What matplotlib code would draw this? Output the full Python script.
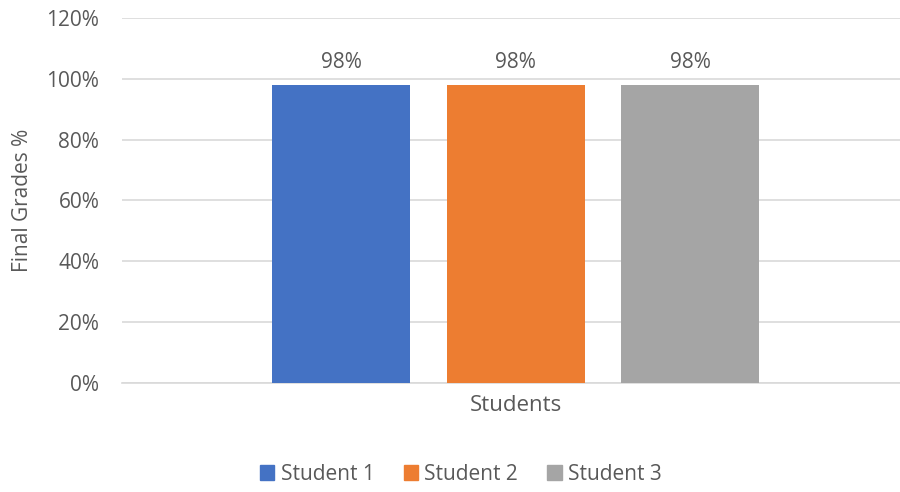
import matplotlib.pyplot as plt
from matplotlib.ticker import PercentFormatter
from matplotlib.patches import Patch

category = ['Students']
series = ['Student 1', 'Student 2', 'Student 3']
grades = [98, 98, 98]
colors = ['#4472C4', '#ED7D31', '#A5A5A5']

plt.rcParams['font.family'] = ['Open Sans', 'DejaVu Sans']
text_col = '#595959'

fig = plt.figure(figsize=(9, 4.92), dpi=100)
ax = fig.add_axes([0.135, 0.222, 0.865, 0.741])

width = 0.177
shift = 0.0064
offsets = [-0.224, 0.0, 0.224]
for name, val, col, off in zip(series, grades, colors, offsets):
    b = ax.bar(shift + off, val, width=width, color=col, label=name, zorder=3)
    ax.bar_label(b, labels=[f'{val}%'], padding=9, fontsize=15, color=text_col)

ax.set_xlim(-0.5, 0.5)
ax.set_ylim(0, 120)
ax.set_yticks(range(0, 121, 20))
ax.yaxis.set_major_formatter(PercentFormatter(decimals=0))
ax.set_xticks([shift])
ax.set_xticklabels(category, fontsize=16, color=text_col)
ax.set_ylabel('Final Grades %', fontsize=15, color=text_col, labelpad=10)
ax.tick_params(axis='y', labelsize=15, labelcolor=text_col, length=0, pad=16)
ax.tick_params(axis='x', length=0, pad=9)
ax.grid(axis='y', color='#D9D9D9', lw=1.2, zorder=0)
for s in ['top', 'right', 'left']:
    ax.spines[s].set_visible(False)
ax.spines['bottom'].set_color('#D9D9D9')
ax.spines['bottom'].set_linewidth(1.2)

handles = [Patch(color=c, label=n) for n, c in zip(series, colors)]
fig.legend(handles=handles, loc='center', bbox_to_anchor=(0.512, 0.036), ncol=3,
           frameon=False, fontsize=15, labelcolor=text_col,
           handlelength=0.7, handleheight=0.7, handletextpad=0.3, columnspacing=1.4)

fig.savefig('out.png', dpi=100)
